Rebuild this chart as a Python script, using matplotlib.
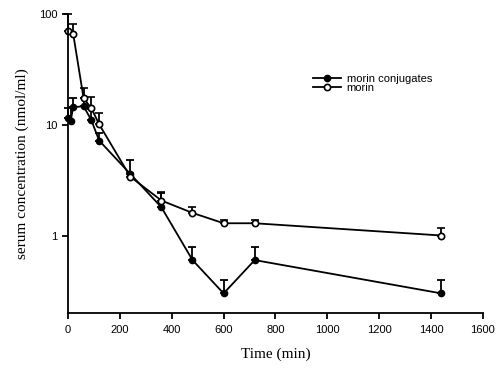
import numpy as np
from matplotlib import pyplot as plt
from matplotlib.lines import Line2D
from matplotlib.ticker import FixedLocator, NullLocator

# time points (min)
t_conj = [0, 10, 20, 60, 90, 120, 240, 360, 480, 600, 720, 1440]
t_morin = [0, 20, 60, 90, 120, 240, 360, 480, 600, 720, 1440]

# mean serum concentrations (nmol/ml)
conj = [11.5, 10.8, 14.4, 14.7, 11.0, 7.2, 3.6, 1.8, 0.6, 0.3, 0.6, 0.3]
morin = [70, 66, 17.4, 14.1, 10.1, 3.4, 2.07, 1.6, 1.29, 1.29, 1.0]

# top of the error bars (upper SD only)
conj_top = [14.2, 14.2, 17.6, 17.6, 14.0, 8.5, 4.8, 2.4, 0.78, 0.4, 0.78, 0.4]
morin_top = [100, 82, 21.4, 17.7, 12.7, 3.7, 2.47, 1.8, 1.37, 1.37, 1.17]

plt.rcParams['font.family'] = 'sans-serif'
plt.rcParams['font.sans-serif'] = ['Liberation Sans', 'DejaVu Sans']

fig = plt.figure(figsize=(5.02, 3.69), dpi=100)
ax = fig.add_axes([0.1355, 0.152, 0.8265, 0.81])

conj_err = [np.zeros(len(conj)), np.array(conj_top) - np.array(conj)]
morin_err = [np.zeros(len(morin)), np.array(morin_top) - np.array(morin)]

eb1 = ax.errorbar(t_conj, conj, yerr=conj_err, color='black', lw=1.3,
                  marker='o', ms=4.5, mfc='black', mec='black',
                  capsize=3, capthick=1.3, elinewidth=1.3)
eb2 = ax.errorbar(t_morin, morin, yerr=morin_err, color='black', lw=1.3,
                  marker='o', ms=4.5, mfc='white', mec='black', mew=1.2,
                  capsize=3, capthick=1.3, elinewidth=1.3)
for eb in (eb1, eb2):
    for art in eb.get_children():
        art.set_clip_on(False)

ax.set_yscale('log')
ax.set_ylim(0.2, 100)
ax.set_xlim(0, 1600)
ax.yaxis.set_major_locator(FixedLocator([1, 10, 100]))
ax.yaxis.set_minor_locator(NullLocator())
ax.set_yticklabels(['1', '10', '100'])
ax.set_xticks(range(0, 1601, 200))

for side in ['top', 'right']:
    ax.spines[side].set_visible(False)
for side in ['left', 'bottom']:
    ax.spines[side].set_linewidth(1.3)
ax.tick_params(axis='both', direction='out', length=4, width=1.3, labelsize=8)
ax.tick_params(axis='x', pad=5)
ax.tick_params(axis='y', pad=3.5)

ax.set_xlabel('Time (min)', family='Liberation Serif', fontsize=11, labelpad=9)
ax.set_ylabel('serum concentration (nmol/ml)', family='Liberation Serif',
              fontsize=11, labelpad=7)

handles = [
    Line2D([], [], color='black', lw=1.3, marker='o', ms=4.5, mfc='black'),
    Line2D([], [], color='black', lw=1.3, marker='o', ms=4.5, mfc='white', mew=1.2),
]
ax.legend(handles, ['morin conjugates', 'morin'], loc='upper left',
          bbox_to_anchor=(0.59, 0.80), frameon=False, fontsize=8,
          handlelength=2.5, handletextpad=0.55, labelspacing=-0.1,
          borderpad=0, borderaxespad=0)

fig.savefig('out.png', dpi=100)
